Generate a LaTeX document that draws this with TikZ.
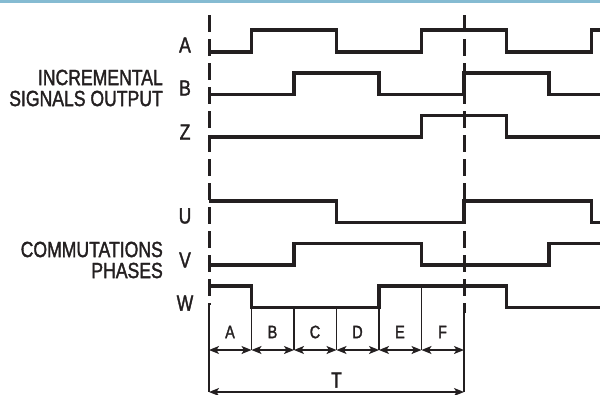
\documentclass[tikz,border=0pt]{standalone}
\usepackage{fontspec}
\setmainfont{Liberation Sans}[FakeStretch=0.80, FakeBold=1.6]
\usetikzlibrary{arrows.meta}
\definecolor{ink}{RGB}{35,31,32}
\definecolor{topbar}{RGB}{133,187,210}
\tikzset{sig/.style = {draw=ink, line width=3.2pt},
  sync/.style = {draw=ink, line width=3pt, dash pattern=on 17pt off 7pt},
  gridline/.style = {draw=ink, line width=1.4pt},
  spanarrow/.style = {gridline, {Stealth[length=10pt,width=8pt,inset=2.5pt]}-{Stealth[length=10pt,width=8pt,inset=2.5pt]}},
  lbl/.style = {text=ink, inner sep=0, font=\fontsize{22}{21}\selectfont},
  seg/.style = {text=ink, inner sep=0, font=\fontsize{18}{18}\selectfont}}

\begin{document}
\begin{tikzpicture}[x=1pt, y=-1pt]
    \useasboundingbox (0, 0) rectangle (600, 394);
    \fill [topbar] (0, 0) rectangle (600, 2.5);

    \node [lbl, align=right, anchor=east] (inc) at (163, 88) {INCREMENTAL\\SIGNALS OUTPUT};
    \node [lbl, align=right, anchor=east] (com) at (163, 260) {COMMUTATIONS\\PHASES};
    \node [lbl] (nA) at (185, 45) {A};
    \node [lbl] (nB) at (185, 88) {B};
    \node [lbl] (nZ) at (185, 132) {Z};
    \node [lbl] (nU) at (185, 216) {U};
    \node [lbl] (nV) at (185, 260) {V};
    \node [lbl] (nW) at (185, 303) {W};

    % sync lines
    \draw [sync] (209, 15) -- (209, 305);
    \draw [sync] (464, 15) -- (464, 313);

    % incremental signals
    \draw [sig] (209, 52) -| (251.5, 30) -| (336.5, 52) -| (421.5, 30) -| (506.5, 52) -| (591.5, 30) -- (600, 30);
    \draw [sig] (209, 94.5) -| (294, 73) -| (379, 94.5) -| (464, 73) -| (549, 94.5) -- (600, 94.5);
    \draw [sig] (209, 137) -| (421.5, 115.5) -| (506.5, 137) -- (600, 137);

    % commutation phases
    \draw [sig] (209, 201) -| (336.5, 222.5) -| (464, 201) -| (591.5, 222.5) -- (600, 222.5);
    \draw [sig] (209, 265) -| (294, 243.5) -| (421.5, 265) -| (549, 243.5) -- (600, 243.5);
    \draw [sig] (209, 286) -| (251.5, 307.5) -| (379, 286) -| (506.5, 307.5) -- (600, 307.5);

    % sectors
    \foreach \i in {0,...,6}
        \coordinate (s\i) at (209 + 42.5*\i, 350);
    \coordinate (t0) at (209, 392);
    \coordinate (t6) at (464, 392);
    \draw [gridline] (209, 305) -- (t0);
    \draw [gridline] (464, 313) -- (t6);
    \foreach \i in {1, 2, 3}
        \draw [gridline] (209 + 42.5*\i, 307.5) -- (s\i);
    \foreach \i in {4, 5}
        \draw [gridline] (209 + 42.5*\i, 286) -- (s\i);
    \foreach \i [count=\j] in {0,...,5}
        \draw [spanarrow] (s\i) -- (s\j);
    \foreach \t [count=\i from 0] in {A, B, C, D, E, F}
        \node [seg] (sec\t) at (230 + 42.5*\i, 332) {\t};

    \draw [spanarrow] (t0) -- (t6);
    \node [lbl] (per) at (336.5, 380) {T};
\end{tikzpicture}
\end{document}
